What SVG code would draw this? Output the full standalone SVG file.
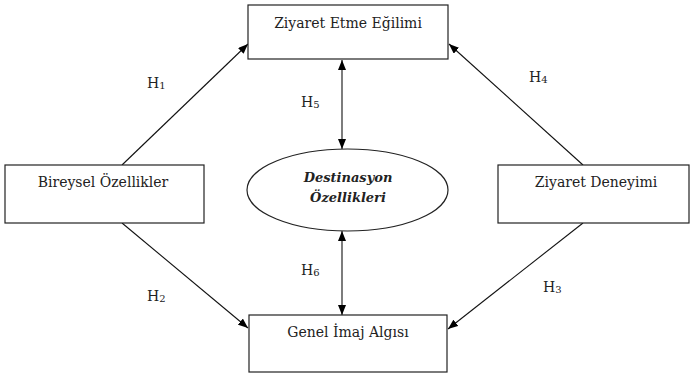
<svg xmlns="http://www.w3.org/2000/svg" width="690" height="373" viewBox="0 0 690 373">
<style>
.box{fill:#fff;stroke:#222;stroke-width:1.2}
text{font-family:"DejaVu Serif","Liberation Serif",serif;font-size:14px;fill:#222}
.t{text-anchor:middle}
.ti{font-weight:bold;font-style:italic;font-size:13px;text-anchor:middle}
.sub{font-size:10px}
.c{stroke:#111;stroke-width:1.1;fill:none}
</style>
<defs>
<marker id="ah" markerWidth="10" markerHeight="8" refX="10" refY="4" orient="auto" markerUnits="userSpaceOnUse">
<path d="M0,0 L10,4 L0,8 Z" fill="#000"/>
</marker>
<marker id="as" markerWidth="10" markerHeight="8" refX="0" refY="4" orient="auto" markerUnits="userSpaceOnUse">
<path d="M10,0 L0,4 L10,8 Z" fill="#000"/>
</marker>
</defs>
<g id="connectors">
<line class="c" x1="122" y1="165" x2="248" y2="44" marker-end="url(#ah)"/>
<line class="c" x1="583" y1="165" x2="449" y2="44" marker-end="url(#ah)"/>
<line class="c" x1="122" y1="223" x2="248" y2="328" marker-end="url(#ah)"/>
<line class="c" x1="583" y1="223" x2="448" y2="329" marker-end="url(#ah)"/>
<line class="c" x1="342" y1="60" x2="342" y2="149" marker-start="url(#as)" marker-end="url(#ah)"/>
<line class="c" x1="342" y1="231" x2="342" y2="315" marker-start="url(#as)" marker-end="url(#ah)"/>
</g>
<g id="labels">
<text x="147" y="88">H<tspan class="sub" dy="1">1</tspan></text>
<text x="529" y="82">H<tspan class="sub" dy="1">4</tspan></text>
<text x="147" y="301">H<tspan class="sub" dy="1">2</tspan></text>
<text x="543" y="292">H<tspan class="sub" dy="1">3</tspan></text>
<text x="301" y="107">H<tspan class="sub" dy="1">5</tspan></text>
<text x="301" y="275">H<tspan class="sub" dy="1">6</tspan></text>
</g>
<g id="n-ziyaret-etme">
<rect class="box" x="248" y="5" width="200" height="54"/>
<text class="t" x="348" y="28">Ziyaret Etme Eğilimi</text>
</g>
<g id="n-bireysel">
<rect class="box" x="5" y="165" width="199" height="58"/>
<text class="t" x="103" y="187">Bireysel Özellikler</text>
</g>
<g id="n-destinasyon">
<ellipse class="box" cx="347.5" cy="190" rx="100.5" ry="41"/>
<text class="ti" x="348" y="182">Destinasyon</text>
<text class="ti" x="348" y="202">Özellikleri</text>
</g>
<g id="n-ziyaret-deneyimi">
<rect class="box" x="498" y="165" width="191" height="58"/>
<text class="t" x="596" y="187">Ziyaret Deneyimi</text>
</g>
<g id="n-genel-imaj">
<rect class="box" x="249" y="315" width="198" height="57"/>
<text class="t" x="348" y="337">Genel İmaj Algısı</text>
</g>
</svg>
